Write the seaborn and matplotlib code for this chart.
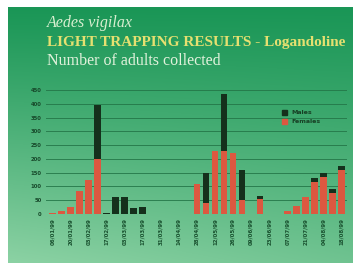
import numpy as np
import pandas as pd
import matplotlib.pyplot as plt
from matplotlib.patches import Patch
import seaborn as sns

# sampling dates (every other one is labelled on the axis)
dates = ['06/01/99', '13/01/99', '20/01/99', '27/01/99', '03/02/99', '10/02/99',
         '17/02/99', '24/02/99', '03/03/99', '10/03/99', '17/03/99', '24/03/99',
         '31/03/99', '07/04/99', '14/04/99', '21/04/99', '28/04/99', '05/05/99',
         '12/05/99', '19/05/99', '26/05/99', '02/06/99', '09/06/99', '16/06/99',
         '23/06/99', '30/06/99', '07/07/99', '14/07/99', '21/07/99', '28/07/99',
         '04/08/99', '11/08/99', '18/08/99']
females = [3, 10, 25, 85, 125, 200, 0, 0, 0, 0, 0, 0, 0, 0, 0, 0, 110,
           40, 230, 230, 220, 50, 0, 55, 0, 0, 10, 30, 60, 115, 135, 75, 160]
males = [0, 0, 0, 0, 0, 195, 5, 60, 60, 20, 25, 0, 0, 0, 0, 0, 0,
         110, 0, 205, 0, 110, 0, 10, 0, 0, 0, 0, 0, 15, 15, 15, 15]
y_ticks = [0, 50, 100, 150, 200, 250, 300, 350, 400, 450]

df = pd.DataFrame({'date': dates, 'Females': females, 'Males': males})
df['total'] = df['Females'] + df['Males']

W, H = 361, 269
fig = plt.figure(figsize=(W / 100, H / 100), dpi=100)
fig.patch.set_facecolor('white')

# green slide background with a soft gradient
bg = fig.add_axes([8 / W, 1 - 263 / H, 345 / W, 256 / H])
t = np.linspace(0, 1, 200)[:, None]
s = np.linspace(0, 1, 200)[None, :]
top = np.array([26, 150, 86]) / 255
bot = np.array([140, 210, 164]) / 255
mix = np.clip(t ** 1.1 * (1.0 - 0.25 * s), 0, 1)
img = top + (bot - top) * mix[..., None]
bg.imshow(img, aspect='auto', extent=[0, 1, 0, 1])
bg.axis('off')

# titles
fig.text(47 / W, 1 - 23 / H, 'Aedes vigilax', fontsize=11.5, style='italic',
         family='Liberation Serif', color='#d8efd0', va='center')
fig.text(47 / W, 1 - 42 / H, 'LIGHT TRAPPING RESULTS - Logandoline', fontsize=11,
         weight='bold', family='Liberation Serif', color='#e6e070', va='center')
fig.text(47 / W, 1 - 61 / H, 'Number of adults collected', fontsize=11.5,
         family='Liberation Serif', color='#e2f2dc', va='center')

ax = fig.add_axes([46 / W, 1 - 214 / H, 301 / W, 124 / H])
ax.set_facecolor('none')
sns.barplot(data=df, x='date', y='total', color='#15301c', width=0.72,
            saturation=1, ax=ax, zorder=3)
sns.barplot(data=df, x='date', y='Females', color='#dc5840', width=0.72,
            saturation=1, ax=ax, zorder=4)

ax.set_ylim(0, 450)
ax.set_xlim(-0.7, len(dates) - 0.4)
ax.set_yticks(y_ticks)
ax.set_yticklabels([str(v) for v in y_ticks], fontsize=3.8, color='#17482a',
                   weight='bold')
ax.set_xticks(range(0, len(dates), 2))
ax.set_xticklabels(dates[::2], rotation=90, fontsize=4, color='#1a5230',
                   weight='bold')
ax.tick_params(length=0, pad=3)
ax.set_xlabel('')
ax.set_ylabel('')
ax.grid(axis='y', color='#237547', linewidth=0.7, alpha=0.85, zorder=0)
for sp in ax.spines.values():
    sp.set_visible(False)

handles = [Patch(color='#15301c', label='Males'),
           Patch(color='#dc5840', label='Females')]
ax.legend(handles=handles, loc='upper left', frameon=False, fontsize=4.5,
          bbox_to_anchor=(276 / W, 1 - 104 / H), bbox_transform=fig.transFigure,
          handlelength=0.9, handleheight=0.9, labelcolor='#173f24',
          handletextpad=0.6, labelspacing=0.5, prop={'weight': 'bold', 'size': 4.5})

fig.savefig('out.png', dpi=100)
